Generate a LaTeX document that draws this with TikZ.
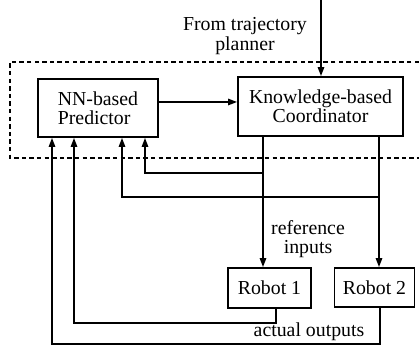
\documentclass[tikz,border=0pt]{standalone}
\usepackage{fontspec}
\setmainfont{Liberation Serif}
\usetikzlibrary{arrows.meta}

\begin{document}
\begin{tikzpicture}[x=0.5pt, y=-0.5pt,
  block/.style = {draw, line width=0.9pt, inner sep=0pt, font=\fontsize{9.9}{9.6}\selectfont},
  link/.style = {line width=0.8pt},
  tip/.style = {-{Triangle[length=4.5pt,width=3.2pt]}},
  lbl/.style = {align=center, inner sep=0pt, font=\fontsize{9.9}{9.6}\selectfont}]
\useasboundingbox (0,0) rectangle (419,346);
%\draw[help lines] (0,0) grid[step=20] (419,346);

% controller boundary (runs off the right edge)
\draw[line width=0.8pt, dash pattern=on 2.2pt off 1.6pt] (419,62) -- (10,62) -- (10,158) -- (419,158);

\node[block, minimum width=60pt, minimum height=29pt, align=left] (nn) at (98,108) {NN-based\\Predictor};
\node[block, minimum width=82.5pt, minimum height=29.5pt, align=center] (kb) at (320.5,106.5) {Knowledge-based\\Coordinator};
\node[block, minimum width=41.5pt, minimum height=20pt] (rob1) at (269.5,288) {Robot 1};
\node[block, minimum width=40pt, minimum height=19.5pt] (rob2) at (374.5,287.5) {Robot 2};

\coordinate (plan) at (321,0);
\node[lbl] (from) at (245,36) {From trajectory\\planner};
\node[lbl] (ref) at (308,239) {reference\\inputs};
\node[lbl] (act) at (309,332) {actual outputs};

\draw[link, tip] (plan) -- (plan |- kb.north);
\draw[link, tip] ([yshift=3pt]nn.east) -- ([yshift=3pt]nn.east -| kb.west);

% coordinator to robots
\draw[link, tip] ([xshift=-28.75pt]kb.south) -- ([xshift=-28.75pt]kb.south |- rob1.north);
\draw[link, tip] ([xshift=29.25pt]kb.south) -- ([xshift=29.25pt]kb.south |- rob2.north);

% reference inputs back to predictor
\draw[link, tip] ([xshift=-28.75pt]kb.south |- 0,173) -| ([xshift=23.5pt]nn.south);
\draw[link, tip] ([xshift=29.25pt]kb.south |- 0,197) -| ([xshift=12pt]nn.south);

% actual outputs back to predictor
\draw[link, tip] ([xshift=3.25pt]rob1.south) -- ++(0,14) -| ([xshift=-12pt]nn.south);
\draw[link, tip] ([xshift=2.75pt]rob2.south) -- ++(0,36) -| ([xshift=-23pt]nn.south);
\end{tikzpicture}
\end{document}
